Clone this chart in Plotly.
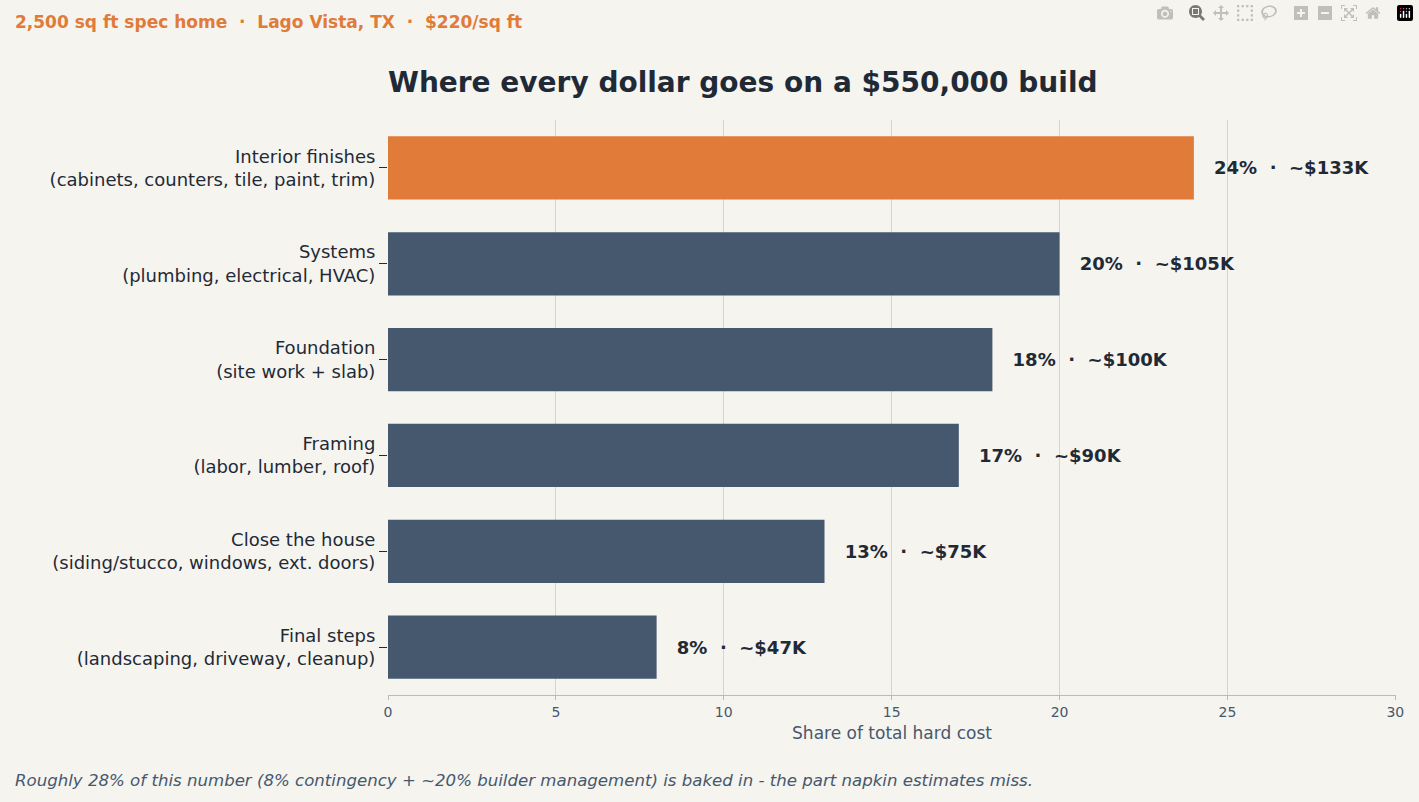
import plotly.graph_objects as go

categories = [
    "Interior finishes<br>(cabinets, counters, tile, paint, trim)",
    "Systems<br>(plumbing, electrical, HVAC)",
    "Foundation<br>(site work + slab)",
    "Framing<br>(labor, lumber, roof)",
    "Close the house<br>(siding/stucco, windows, ext. doors)",
    "Final steps<br>(landscaping, driveway, cleanup)",
]
shares = [24, 20, 18, 17, 13, 8]
dollars = ["~$133K", "~$105K", "~$100K", "~$90K", "~$75K", "~$47K"]

bg = "#f5f4ef"
dark = "#1f2a36"
colors = ["#e07b39"] + ["#46586e"] * 5
labels = [f"   <b>{s}%  ·  {d}</b>" for s, d in zip(shares, dollars)]

fig = go.Figure(go.Bar(
    x=shares, y=categories, orientation="h",
    marker=dict(color=colors, line=dict(width=0)),
    width=0.66,
    text=labels, textposition="outside", cliponaxis=False,
    textfont=dict(size=18, color=dark),
))

fig.update_layout(
    width=1419, height=802,
    paper_bgcolor=bg, plot_bgcolor=bg,
    font=dict(family="DejaVu Sans", color=dark),
    margin=dict(l=388, r=23, t=120, b=107),
    showlegend=False,
    title=dict(text="<b>Where every dollar goes on a $550,000 build</b>",
               x=388 / 1419, xanchor="left", y=0.898, yanchor="middle",
               font=dict(size=28, color=dark)),
    xaxis=dict(range=[0, 30.02], dtick=5, showgrid=True, gridcolor="#d6d4cc",
               zeroline=False, showline=True, linecolor="#bdbbb3",
               ticks="outside", ticklen=4, tickcolor="#bdbbb3",
               tickfont=dict(size=14, color="#46586e"),
               title=dict(text="Share of total hard cost", standoff=8,
                          font=dict(size=17, color="#46586e"))),
    yaxis=dict(autorange="reversed", showgrid=False, ticks="outside",
               ticklen=8, tickcolor=dark, tickfont=dict(size=18, color=dark),
               showline=False),
    annotations=[
        dict(text="<b>2,500 sq ft spec home  ·  Lago Vista, TX  ·  $220/sq ft</b>",
             xref="paper", yref="paper", x=-375 / 1008, y=1 + 98 / 575,
             xanchor="left", yanchor="middle", showarrow=False,
             font=dict(size=17, color="#e07b39")),
        dict(text="<i>Roughly 28% of this number (8% contingency + ~20% builder management) is baked in - the part napkin estimates miss.</i>",
             xref="paper", yref="paper", x=-375 / 1008, y=-85 / 575,
             xanchor="left", yanchor="middle", showarrow=False,
             font=dict(size=16.6, color="#46586e")),
    ],
)

fig.write_html("out.html", post_script="document.body.style.margin='0';")
